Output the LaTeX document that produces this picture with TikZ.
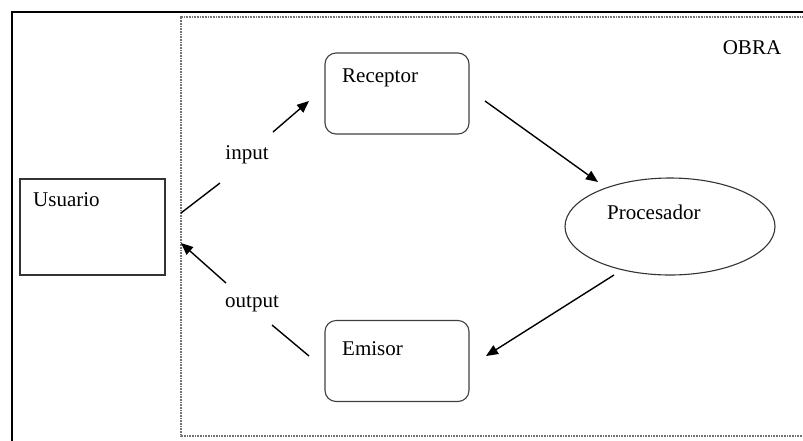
\documentclass[tikz,border=0pt]{standalone}
\usepackage{fontspec}
\setmainfont{Liberation Serif}
\usetikzlibrary{arrows.meta,shapes.geometric}
\tikzset{
  frame/.style={line width=1.6pt, black},
  dotbox/.style={line width=1.1pt, black!55, dash pattern=on 0.8pt off 0.8pt},
  sqbox/.style={draw=black!80, line width=1.1pt, minimum width=145pt, minimum height=96pt, inner sep=0pt},
  rbox/.style={draw=black!75, line width=1.1pt, rounded corners=11pt, minimum width=144pt, minimum height=81pt, inner sep=0pt},
  oval/.style={ellipse, draw=black!80, line width=1.1pt, minimum width=210pt, minimum height=97pt, inner sep=0pt},
  txt/.style={font=\fontsize{21}{25}\selectfont, inner sep=0pt, text=black},
  conn/.style={line width=1.4pt, black},
  arr/.style={conn, -{Triangle[length=12pt,width=10pt]}}
}
\begin{document}
\begin{tikzpicture}[x=1pt,y=-1pt]
\useasboundingbox (0,0) rectangle (803,440);
% outer frame and dotted region
\draw[frame] (12,441) -- (12,12) -- (804,12);
\draw[dotbox] (804,17) -- (181,17) -- (181,436) -- (804,436);
\node[txt] (obra) at (752,48) {OBRA};
% nodes
\node[sqbox] (usuario) at (92.5,227) {};
\node[txt, anchor=west] (tusu) at (33,200) {Usuario};
\node[rbox] (receptor) at (397,93.5) {};
\node[txt, anchor=west] (trec) at (342,78) {Receptor};
\node[rbox] (emisor) at (397,361) {};
\node[txt, anchor=west] (temi) at (342,349) {Emisor};
\node[oval] (proc) at (670,226.5) {};
\node[txt, anchor=west] (tproc) at (607,212) {Procesador};
% connector ends
\coordinate (inA) at (181,213);
\coordinate (inB) at (220,183);
\coordinate (inC) at (273,132);
\coordinate (inD) at (309,101);
\coordinate (outA) at (309,356);
\coordinate (outB) at (272,325);
\coordinate (outC) at (226,283);
\coordinate (outD) at (181,243);
\coordinate (rpA) at (485,101);
\coordinate (rpB) at (598,182);
\coordinate (peA) at (614,275);
\coordinate (peB) at (486,356);
% connectors
\draw[conn] (inA) -- (inB);
\draw[arr] (inC) -- (inD);
\node[txt] (input) at (247,155) {input};
\draw[conn] (outA) -- (outB);
\draw[arr] (outC) -- (outD);
\node[txt] (output) at (252,304) {output};
\draw[arr] (rpA) -- (rpB);
\draw[arr] (peA) -- (peB);
\end{tikzpicture}
\end{document}
